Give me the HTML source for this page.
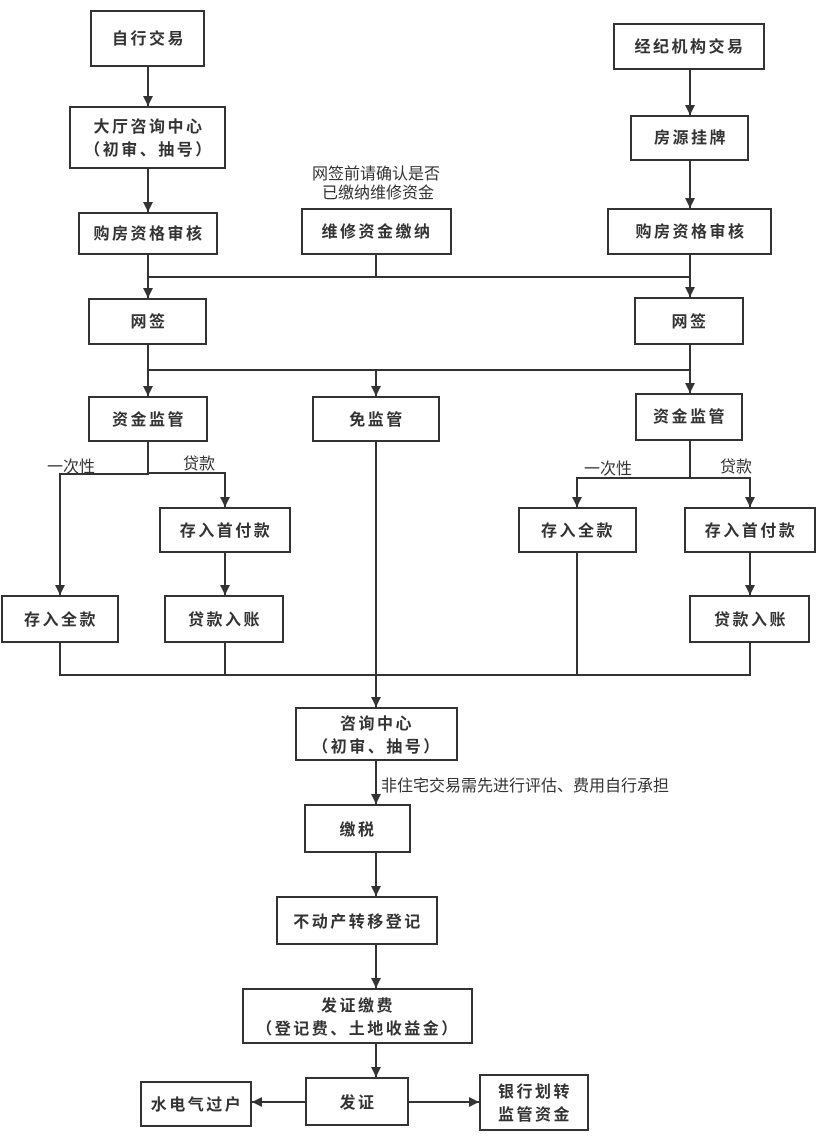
<!DOCTYPE html>
<html><head><meta charset="utf-8"><style>
html,body{margin:0;padding:0;background:#fff;}
svg{display:block;}
.b{fill:#fff;stroke:#333;stroke-width:2;}
.t{font-family:"Liberation Sans","Noto Sans CJK SC",sans-serif;font-size:16px;font-weight:bold;fill:#333;text-anchor:middle;letter-spacing:2.5px;}
.n{font-family:"Liberation Sans","Noto Sans CJK SC",sans-serif;font-size:16px;fill:#333;text-anchor:middle;}
.l{stroke:#333;stroke-width:2;fill:none;}
</style></head><body>
<svg width="821" height="1140" viewBox="0 0 821 1140" xmlns="http://www.w3.org/2000/svg">
<defs>
<marker id="ar" viewBox="0 0 10 10" refX="10" refY="5" markerWidth="10" markerHeight="10" markerUnits="userSpaceOnUse" orient="auto"><path d="M0,0 L10,5 L0,10z" fill="#333"/></marker></defs>
<g class="l">
<path d="M148 66V106" marker-end="url(#ar)"/>
<path d="M148 168V212" marker-end="url(#ar)"/>
<path d="M148 254V298" marker-end="url(#ar)"/>
<path d="M148 277H690"/>
<path d="M376 254V277"/>
<path d="M148 344V396" marker-end="url(#ar)"/>
<path d="M148 370H690"/>
<path d="M376 370V396" marker-end="url(#ar)"/>
<path d="M148 441V474H60V595" marker-end="url(#ar)"/>
<path d="M148 473H225V507" marker-end="url(#ar)"/>
<path d="M225 552V595" marker-end="url(#ar)"/>
<path d="M60 642V675H750V642"/>
<path d="M225 642V675"/>
<path d="M577 552V675"/>
<path d="M376 441V707" marker-end="url(#ar)"/>
<path d="M690 69V115" marker-end="url(#ar)"/>
<path d="M690 160V208" marker-end="url(#ar)"/>
<path d="M690 254V297" marker-end="url(#ar)"/>
<path d="M690 344V393" marker-end="url(#ar)"/>
<path d="M690 440V478H577V507" marker-end="url(#ar)"/>
<path d="M690 478H750V507" marker-end="url(#ar)"/>
<path d="M750 552V595" marker-end="url(#ar)"/>
<path d="M376 760V804" marker-end="url(#ar)"/>
<path d="M376 852V896" marker-end="url(#ar)"/>
<path d="M376 944V988" marker-end="url(#ar)"/>
<path d="M376 1043V1077" marker-end="url(#ar)"/>
<path d="M306 1102H252" marker-end="url(#ar)"/>
<path d="M408 1102H479" marker-end="url(#ar)"/>
</g>
<rect class="b" x="91" y="11" width="113" height="55"/><text class="t" x="149" y="44">自行交易</text>
<rect class="b" x="70" y="107" width="155" height="61"/><text class="t" x="149" y="132">大厅咨询中心</text><text class="t" x="149" y="155">（初审、抽号）</text>
<rect class="b" x="79" y="213" width="138" height="41"/><text class="t" x="149" y="239">购房资格审核</text>
<text class="n" x="376" y="179">网签前请确认是否</text><text class="n" x="378" y="198">已缴纳维修资金</text>
<rect class="b" x="302" y="209" width="149" height="45"/><text class="t" x="377" y="237">维修资金缴纳</text>
<rect class="b" x="89" y="299" width="117" height="45"/><text class="t" x="149" y="327">网签</text>
<rect class="b" x="89" y="397" width="118" height="44"/><text class="t" x="149" y="425">资金监管</text>
<rect class="b" x="313" y="397" width="126" height="44"/><text class="t" x="377" y="425">免监管</text>
<rect class="b" x="614" y="24" width="150" height="45"/><text class="t" x="690" y="52">经纪机构交易</text>
<rect class="b" x="631" y="116" width="117" height="44"/><text class="t" x="691" y="143">房源挂牌</text>
<rect class="b" x="608" y="209" width="163" height="45"/><text class="t" x="691" y="237">购房资格审核</text>
<rect class="b" x="635" y="298" width="108" height="46"/><text class="t" x="690" y="327">网签</text>
<rect class="b" x="636" y="394" width="106" height="46"/><text class="t" x="690" y="422">资金监管</text>
<text class="n" x="71" y="472">一次性</text><text class="n" x="199" y="469">贷款</text>
<text class="n" x="608" y="474">一次性</text><text class="n" x="736" y="472">贷款</text>
<rect class="b" x="160" y="508" width="130" height="44"/><text class="t" x="226" y="536">存入首付款</text>
<rect class="b" x="165" y="596" width="118" height="46"/><text class="t" x="225" y="625">贷款入账</text>
<rect class="b" x="2" y="596" width="116" height="46"/><text class="t" x="61" y="625">存入全款</text>
<rect class="b" x="519" y="508" width="117" height="44"/><text class="t" x="578" y="536">存入全款</text>
<rect class="b" x="685" y="508" width="130" height="44"/><text class="t" x="751" y="536">存入首付款</text>
<rect class="b" x="690" y="596" width="119" height="46"/><text class="t" x="751" y="625">贷款入账</text>
<rect class="b" x="296" y="708" width="161" height="52"/><text class="t" x="377" y="729">咨询中心</text><text class="t" x="377" y="752">（初审、抽号）</text>
<text class="n" x="381" y="791" style="text-anchor:start">非住宅交易需先进行评估、费用自行承担</text>
<rect class="b" x="305" y="805" width="105" height="47"/><text class="t" x="358" y="835">缴税</text>
<rect class="b" x="277" y="897" width="160" height="47"/><text class="t" x="358" y="927">不动产转移登记</text>
<rect class="b" x="243" y="989" width="229" height="54"/><text class="t" x="358" y="1011">发证缴费</text><text class="t" x="358" y="1034">（登记费、土地收益金）</text>
<rect class="b" x="306" y="1078" width="102" height="47"/><text class="t" x="358" y="1108">发证</text>
<rect class="b" x="141" y="1082" width="110" height="44"/><text class="t" x="197" y="1110">水电气过户</text>
<rect class="b" x="480" y="1075" width="108" height="55"/><text class="t" x="535" y="1097">银行划转</text><text class="t" x="535" y="1120">监管资金</text>
</svg>
</body></html>
